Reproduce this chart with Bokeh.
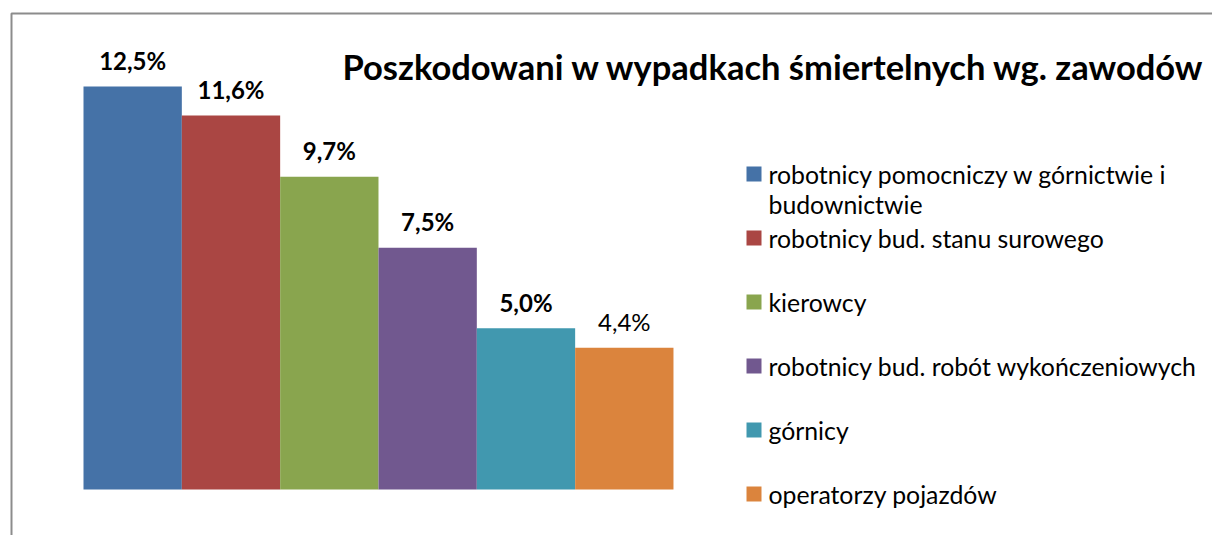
from bokeh.plotting import figure
from bokeh.models import ColumnDataSource, Range1d, BoxAnnotation
from bokeh.core.properties import value
from bokeh.embed import file_html
from bokeh.resources import INLINE

# ---- data ----
categories = [
    "robotnicy pomocniczy w górnictwie i budownictwie",
    "robotnicy bud. stanu surowego",
    "kierowcy",
    "robotnicy bud. robót wykończeniowych",
    "górnicy",
    "operatorzy pojazdów",
]
legend_lines = [
    ["robotnicy pomocniczy w górnictwie i", "budownictwie"],
    ["robotnicy bud. stanu surowego"],
    ["kierowcy"],
    ["robotnicy bud. robót wykończeniowych"],
    ["górnicy"],
    ["operatorzy pojazdów"],
]
values = [12.5, 11.6, 9.7, 7.5, 5.0, 4.4]
value_labels = ["12,5%", "11,6%", "9,7%", "7,5%", "5,0%", "4,4%"]
label_styles = ["bold", "bold", "bold", "bold", "bold", "normal"]
colors = ["#4572a7", "#aa4643", "#89a54e", "#71588f", "#4198af", "#db843d"]
title = "Poszkodowani w wypadkach śmiertelnych wg. zawodów"

# ---- layout (pixels) ----
W, H = 1212, 535
X0 = 83.0          # left edge of first bar
BW = 98.33         # bar width in px
Y0 = 489.0         # baseline (px from top)
SY = 32.24         # px per percent
FONT = "Lato"

def dx(px):
    return (px - X0) / BW

def dy(py):
    return (Y0 - py) / SY

p = figure(width=W, height=H, output_backend="svg", toolbar_location=None,
           x_range=Range1d(dx(0), dx(W)), y_range=Range1d(dy(H), dy(0)),
           min_border=0, min_border_left=0, min_border_right=0,
           min_border_top=0, min_border_bottom=0)
p.axis.visible = False
p.grid.visible = False
p.outline_line_color = None
p.background_fill_color = "white"
p.border_fill_color = "white"

n = len(values)
src = ColumnDataSource(dict(
    x=[i + 0.5 for i in range(n)],
    top=values,
    color=colors,
    label=value_labels,
    style=label_styles,
    cat=categories,
))

p.vbar(x="x", top="top", bottom=0, width=1.0, fill_color="color",
       line_color=None, source=src)

p.text(x="x", y="top", text="label", source=src, text_align="center",
       text_baseline="middle", y_offset=-26,
       text_font=value(FONT), text_font_size="24px",
       text_font_style="style", text_color="#000000")

# title
p.text(x=[dx(342)], y=[dy(66)], text=[title], text_align="left",
       text_baseline="middle", text_font=value(FONT),
       text_font_size="34.5px", text_font_style="bold", text_color="#000000")

# legend (manual, irregular wrap)
LEG_Y0 = 173.5
LEG_STEP = 64.0
sq_x, sq_y, sq_c = [], [], []
tx, ty, tt = [], [], []
for i, lines in enumerate(legend_lines):
    cy = LEG_Y0 + LEG_STEP * i
    sq_x.append(dx(753.5)); sq_y.append(dy(cy)); sq_c.append(colors[i])
    for j, line in enumerate(lines):
        tx.append(dx(768)); ty.append(dy(cy + 30 * j)); tt.append(line)

p.rect(x=sq_x, y=sq_y, width=15, height=15, width_units="screen",
       height_units="screen", fill_color=sq_c, line_color=None)
p.text(x=tx, y=ty, text=tt, text_align="left", text_baseline="middle",
       text_font=value(FONT), text_font_size="24.8px", text_color="#000000")

# chart-area border
p.add_layout(BoxAnnotation(left=dx(11), right=dx(W + 20), top=dy(13),
                           bottom=dy(H + 20), fill_alpha=0, line_alpha=1.0,
                           line_color="#8c8c8c", line_width=2))

open("out.html", "w").write(file_html(p, INLINE))
